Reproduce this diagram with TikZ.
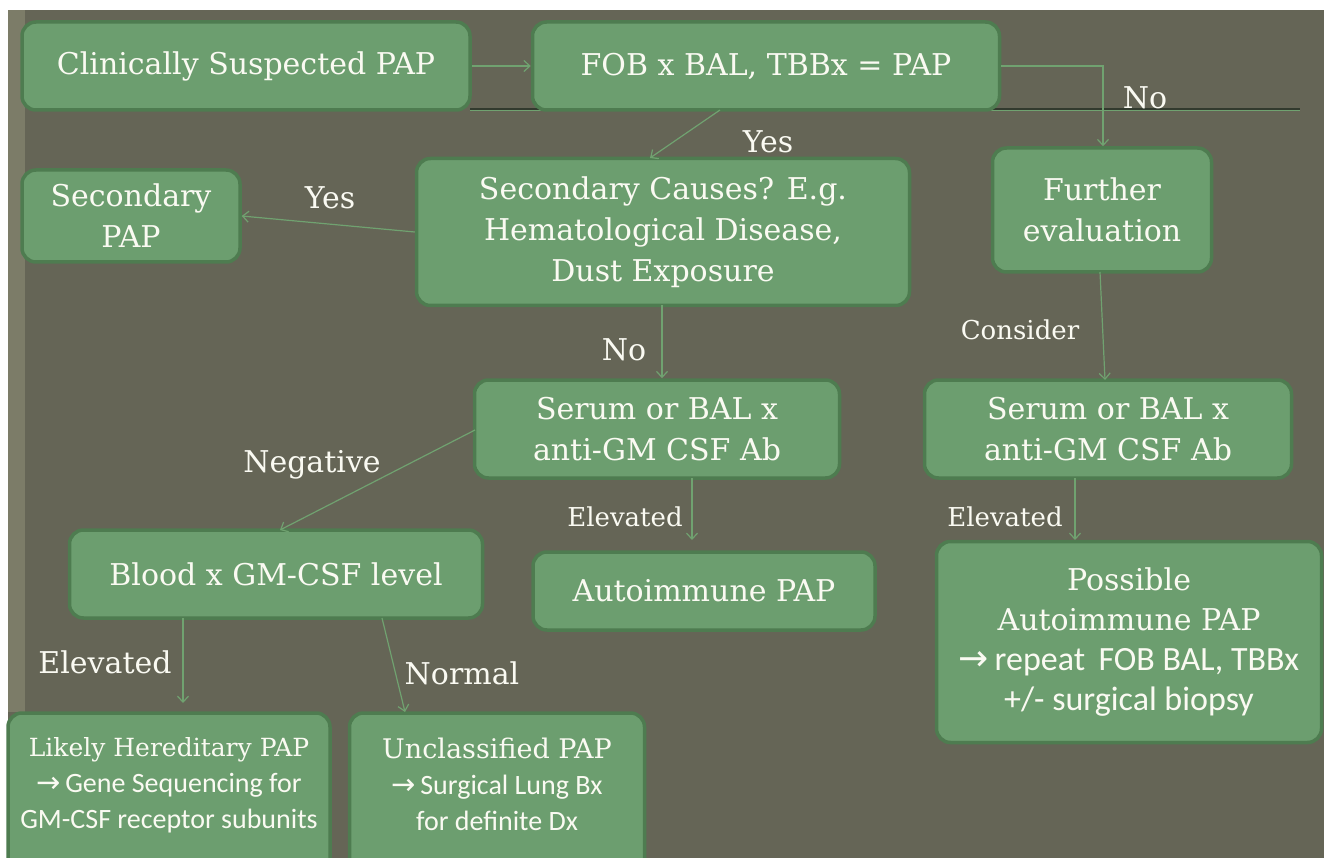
\documentclass[tikz,border=0pt]{standalone}
\usepackage{fontspec}
\setmainfont{DejaVu Serif}
\newfontfamily\calfont{Carlito}
\newfontfamily\arrfont{DejaVu Sans}
\usetikzlibrary{arrows.meta}
\definecolor{bg}{RGB}{101,101,86}
\definecolor{barc}{RGB}{124,124,104}
\definecolor{boxf}{RGB}{108,158,111}
\definecolor{boxd}{RGB}{78,124,80}
\definecolor{txt}{RGB}{250,250,242}
\definecolor{arrc}{RGB}{112,162,112}
\definecolor{linedark}{RGB}{50,58,46}
\newcommand{\rar}[1]{{\arrfont\fontsize{#1}{10}\selectfont →}\,}
\begin{document}
\begin{tikzpicture}[x=1pt,y=-1pt,
  box/.style={draw=boxd, line width=3.5pt, fill=boxf, rounded corners=14pt, text=txt, align=center, inner sep=0pt},
  lbl/.style={text=txt, inner sep=0pt},
  big/.style={font=\fontsize{30}{41}\selectfont},
  mid/.style={font=\fontsize{26}{30}\selectfont},
  conn/.style={draw=arrc, line width=1.2pt, -{Straight Barb[length=6pt,width=11pt]}}]
\useasboundingbox (0,0) rectangle (1324,858);
\fill[white] (0,0) rectangle (1324,858);
\fill[bg] (8,10) rectangle (1324,858);
\fill[barc] (8,10) rectangle (25,712);
% horizontal rule behind top row
\coordinate (r1) at (470,109);
\coordinate (r2) at (1300,109);
\draw[linedark, line width=2.5pt] (r1) -- (r2);
\draw[arrc, line width=1pt] ([yshift=-1.2pt]r1) -- ([yshift=-1.2pt]r2);

% boxes
\node[box, big, minimum width=448, minimum height=88] (c1) at (246,66) {Clinically Suspected PAP};
\node[box, big, minimum width=467, minimum height=88] (c2) at (766,66) {FOB x BAL, TBBx = PAP};
\node[box, big, minimum width=218, minimum height=92] (sec) at (131,216) {Secondary\\PAP};
\node[box, big, minimum width=493, minimum height=147] (cause) at (663,232) {Secondary Causes? E.g.\\Hematological Disease,\\Dust Exposure};
\node[box, big, minimum width=219, minimum height=124] (fur) at (1102,210) {Further\\evaluation};
\node[box, big, minimum width=365, minimum height=98] (serm) at (657,429) {Serum or BAL x\\anti-GM CSF Ab};
\node[box, big, minimum width=367, minimum height=98] (serr) at (1108,429) {Serum or BAL x\\anti-GM CSF Ab};
\node[box, big, minimum width=413, minimum height=88] (blood) at (276,574) {Blood x GM-CSF level};
\node[box, big, minimum width=342, minimum height=78] (auto) at (704,591) {Autoimmune PAP};
\node[box, minimum width=385, minimum height=201] (poss) at (1129,642) {};
\node[lbl, align=center, font=\fontsize{30}{40}\selectfont] (posst) at (1129,642) {Possible\\Autoimmune PAP\\\calfont\fontsize{34}{40}\selectfont\rar{36}repeat\, FOB BAL, TBBx\\\calfont\fontsize{34}{40}\selectfont +/- surgical biopsy};
\node[box, minimum width=322, minimum height=160] (likely) at (169,793) {};
\node[lbl, align=center, font=\fontsize{25}{36}\selectfont] (likelyt) at (169,785) {Likely Hereditary PAP\\\calfont\fontsize{28}{37}\selectfont\rar{29}Gene Sequencing for\\\calfont\fontsize{28}{34}\selectfont GM-CSF receptor subunits};
\node[box, minimum width=295, minimum height=160] (uncl) at (497,793) {};
\node[lbl, align=center, font=\fontsize{27}{36}\selectfont] (unclt) at (497,784) {Unclassified PAP\\\calfont\fontsize{28}{36}\selectfont\rar{29}Surgical Lung Bx\\\calfont\fontsize{28}{34}\selectfont for definite Dx};

% connectors
\draw[conn] (c1.east) -- (c2.west);
\draw[conn] (720,110) -- (650,158);
\coordinate (nb) at (1103,66);
\draw[conn] (c2.east) -- (nb) -- (fur.north -| nb);
\draw[conn] (cause.west |- 0,232) -- (sec.east);
\draw[conn] (662,305) -- (serm.north -| 662,0);
\draw[conn] (1100,272) -- (1105,380);
\draw[conn] (475,430) -- (280,530);
\draw[conn] (692,478) -- (692,540);
\draw[conn] (1075,478) -- (1075,540);
\draw[conn] (183,618) -- (183,703);
\draw[conn] (382,618) -- (405,712);

% labels
\node[lbl, big] (yes1) at (768,142) {Yes};
\node[lbl, big] (no1) at (1145,98) {No};
\node[lbl, big] (yes2) at (330,198) {Yes};
\node[lbl, big] (no2) at (624,350) {No};
\node[lbl, mid] (cons) at (1020,330) {Consider};
\node[lbl, big] (neg) at (312,465) {Negative};
\node[lbl, mid] (el1) at (625,517) {Elevated};
\node[lbl, mid] (el2) at (1005,517) {Elevated};
\node[lbl, big] (el3) at (105,662) {Elevated};
\node[lbl, big] (norm) at (462,673) {Normal};
\end{tikzpicture}
\end{document}
